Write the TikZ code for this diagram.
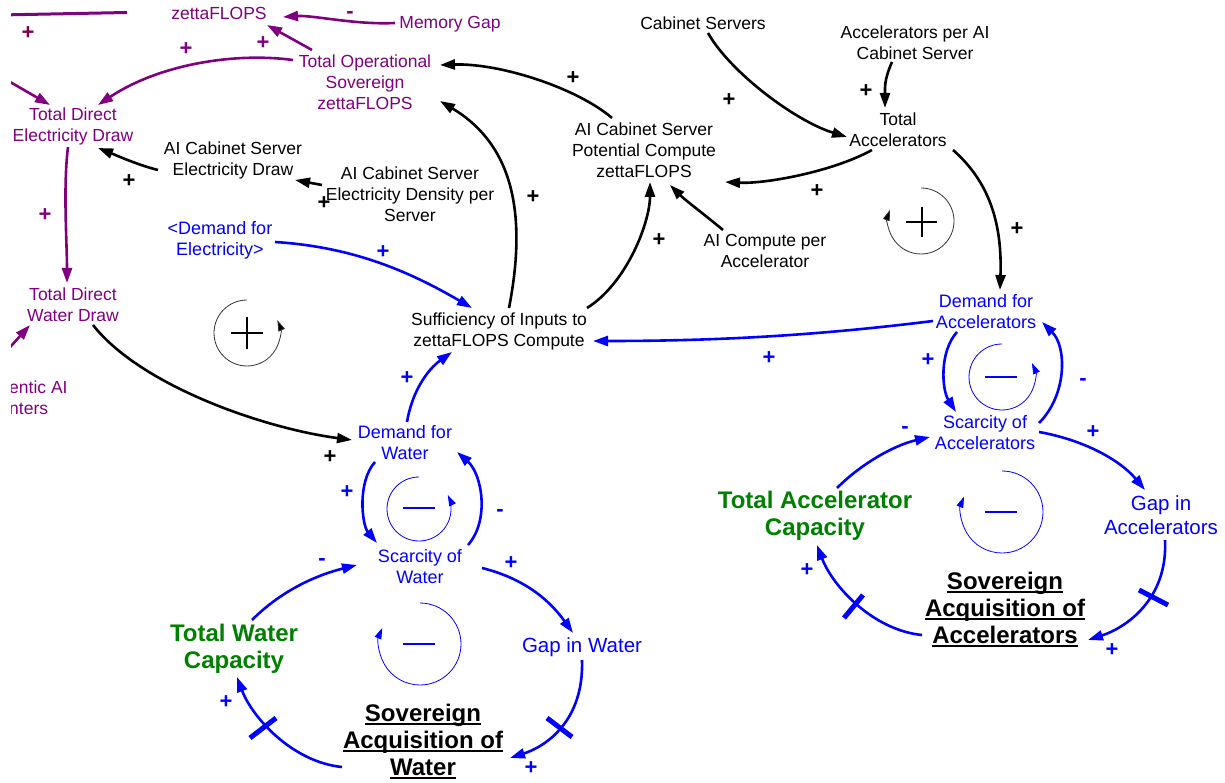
\documentclass[tikz,border=0pt]{standalone}
\usepackage{fontspec}
\setmainfont{Liberation Sans}
\usetikzlibrary{arrows.meta,calc}
\definecolor{purp}{RGB}{128,0,128}
\definecolor{dpurp}{RGB}{128,0,80}
\definecolor{vblue}{RGB}{0,0,255}
\definecolor{vgreen}{RGB}{0,128,0}
\newcommand\myul[1]{\setbox0\hbox{#1}\rlap{\rule[-3.5pt]{\wd0}{2pt}}\box0}
\tikzset{
  lbl/.style={align=center, inner sep=0pt, font=\fontsize{17.5}{21}\selectfont},
  nblack/.style={lbl, text=black},
  npurp/.style={lbl, text=purp},
  nblue/.style={align=center, inner sep=0pt, text=vblue, font=\fontsize{18}{21}\selectfont},
  ngap/.style={align=center, inner sep=0pt, text=vblue, font=\fontsize{20.5}{23.5}\selectfont},
  ngreen/.style={align=center, inner sep=0pt, text=vgreen, font=\bfseries\fontsize{24}{27.5}\selectfont},
  nsov/.style={align=center, inner sep=0pt, text=black, font=\bfseries\fontsize{24}{27}\selectfont},
  lk/.style={line width=2.6pt, -{Triangle[length=15pt,width=10pt]}},
  lkk/.style={lk, draw=black},
  lkp/.style={lk, draw=purp},
  lkb/.style={lk, draw=vblue},
  sgn/.style={inner sep=0pt, font=\bfseries\fontsize{22}{22}\selectfont},
  sk/.style={sgn, text=black},
  sp/.style={sgn, text=purp},
  sb/.style={sgn, text=vblue},
  delay/.style={line width=5pt, draw=vblue},
  loopk/.style={line width=0.8pt, draw=black!80, -{Triangle[length=11pt,width=7pt,fill=black]}},
  loopb/.style={line width=0.8pt, draw=vblue, -{Triangle[length=11pt,width=7pt,fill=vblue]}},
  loopsym/.style={line width=2pt}
}
\begin{document}
\begin{tikzpicture}[x=1pt,y=-1pt]
\useasboundingbox (0,0) rectangle (1225,783);
\fill[white] (0,0) rectangle (1225,783);
\begin{scope}
\clip (11,0) rectangle (1225,783);

% ---------- black nodes
\node[nblack] (cs) at (703,23) {Cabinet Servers};
\node[nblack] (apa) at (915,43) {Accelerators per AI\\Cabinet Server};
\node[nblack] (ta) at (898,130) {Total\\Accelerators};
\node[nblack] (pc) at (644,150) {AI Cabinet Server\\Potential Compute\\zettaFLOPS};
\node[nblack] (ed) at (233,160) {AI Cabinet Server\\Electricity Draw};
\node[nblack] (den) at (410,194) {AI Cabinet Server\\Electricity Density per\\Server};
\node[nblack] (cpa) at (765,251) {AI Compute per\\Accelerator};
\node[nblack] (suf) at (499,331) {Sufficiency of Inputs to\\zettaFLOPS Compute};

% ---------- purple nodes
\node[npurp] (zf) at (219,13) {zettaFLOPS};
\node[npurp] (mg) at (450,24) {Memory Gap};
\node[npurp] (tos) at (365,82) {Total Operational\\Sovereign\\zettaFLOPS};
\node[npurp] (tded) at (73,126) {Total Direct\\Electricity Draw};
\node[npurp] (tdwd) at (73,305) {Total Direct\\Water Draw};
\node[npurp, align=left, anchor=west] (aai) at (9,398) {entic AI\\nters};

% ---------- blue nodes
\node[nblue] (dfe) at (220,240) {<Demand for\\Electricity>};
\node[nblue] (dw) at (405,443) {Demand for\\Water};
\node[nblue] (sw) at (420,567) {Scarcity of\\Water};
\node[ngap] (gw) at (582,647) {Gap in Water};
\node[nblue] (da) at (986,312) {Demand for\\Accelerators};
\node[nblue] (sa) at (985,433) {Scarcity of\\Accelerators};
\node[ngap] (ga) at (1161,515) {Gap in\\Accelerators};

% ---------- green + sovereign nodes
\node[ngreen] (twc) at (234,649) {Total Water\\Capacity};
\node[ngreen] (tac) at (815,516) {Total Accelerator\\Capacity};
\node[nsov] (saw) at (423,742) {\myul{Sovereign}\\\myul{Acquisition of}\\\myul{Water}};
\node[nsov] (saa) at (1005,610) {\myul{Sovereign}\\\myul{Acquisition of}\\\myul{Accelerators}};

% ---------- free ends
\coordinate (oa) at (-2,75);
\coordinate (ob) at (3,355);
\coordinate (oc) at (0,15);
\coordinate (od) at (127,12.5);

% ---------- black links
\draw[lkk] ($(cs)+(5,10)$) .. controls +(22,39) and +(-52,-16) .. ($(ta)+(-51,7)$);
\draw[lkk] ($(apa)+(-23,19)$) .. controls +(-8,18) and +(0,-20) .. ($(ta)+(-13,-22)$);
\draw[lkk] ($(ta)+(-26,20)$) .. controls +(-40,22) and +(40,2) .. ($(pc)+(81,32)$);
\draw[lkk] ($(pc)+(-32,-32)$) .. controls +(-35,-30) and +(60,-2) .. ($(tos)+(75,-17)$);
\draw[lkk] ($(suf)+(10,-23)$) .. controls +(21,-108) and +(65,39) .. ($(tos)+(75,19)$);
\draw[lkk] ($(suf)+(88,-23)$) .. controls +(40,-25) and +(0,40) .. ($(pc)+(6,32)$);
\draw[lkk] ($(cpa)+(-42,-21)$) .. controls +(-18,-15) and +(15,15) .. ($(pc)+(26,35)$);
\draw[lkk] ($(ed)+(-75,10)$) .. controls +(-20,-5) and +(20,8) .. ($(tded)+(25,22)$);
\draw[lkk] ($(den)+(-88,-9)$) -- ($(ed)+(62,20)$);
\draw[lkk] ($(tdwd)+(20,20)$) .. controls +(47,60) and +(-90,-12) .. ($(dw)+(-53,-3)$);
\draw[lkk] ($(ta)+(55,20)$) .. controls +(40,35) and +(2,-60) .. ($(da)+(14,-22)$);

% ---------- purple links
\draw[lkp] ($(mg)+(-55,-1)$) .. controls +(-40,2) and +(30,-2) .. ($(zf)+(64,4)$);
\draw[lkp] ($(tos)+(-53,-32)$) -- ($(zf)+(48,12)$);
\draw[lkp] ($(tos)+(-72,-22)$) .. controls +(-60,-8) and +(60,-40) .. ($(tded)+(25,-21)$);
\draw[lkp] (oa) -- ($(tded)+(-23,-21)$);
\draw[lkp] ($(tded)+(-5,21)$) .. controls +(-5,40) and +(0,-40) .. ($(tdwd)+(-6,-22)$);
\draw[lkp] (ob) -- ($(tdwd)+(-43,20)$);
\draw[purp, line width=3pt] (oc) -- (od);

% ---------- blue links
\draw[lkb] ($(dfe)+(55,2)$) .. controls +(80,5) and +(-60,-35) .. ($(suf)+(-27,-23)$);
\draw[lkb] ($(dw)+(2,-21)$) .. controls +(5,-30) and +(-25,18) .. ($(suf)+(-47,21)$);
\draw[lkb] ($(da)+(-53,9)$) .. controls +(-120,15) and +(120,0) .. ($(suf)+(94,10)$);
\draw[lkb] ($(dw)+(-30,19)$) .. controls +(-18,20) and +(-15,-18) .. ($(sw)+(-43,-24)$);
\draw[lkb] ($(sw)+(48,-22)$) .. controls +(22,-25) and +(25,22) .. ($(dw)+(52,9)$);
\draw[lkb] ($(twc)+(18,-29)$) .. controls +(30,-30) and +(-40,10) .. ($(sw)+(-63,-2)$);
\draw[lkb] ($(sw)+(62,1)$) .. controls +(40,10) and +(-25,-35) .. ($(gw)+(-9,-14)$);
\draw[lkb] ($(gw)+(0,13)$) .. controls +(2,60) and +(37,-12) .. ($(saw)+(87,16)$);
\draw[lkb] ($(saw)+(-81,25)$) .. controls +(-50,-5) and +(15,40) .. ($(twc)+(3,28)$);
\draw[lkb] ($(da)+(-29,20)$) .. controls +(-18,20) and +(-14,-22) .. ($(sa)+(-29,-21)$);
\draw[lkb] ($(sa)+(54,-10)$) .. controls +(28,-28) and +(25,25) .. ($(da)+(56,10)$);
\draw[lkb] ($(tac)+(22,-28)$) .. controls +(25,-25) and +(-35,8) .. ($(sa)+(-55,4)$);
\draw[lkb] ($(sa)+(54,-1)$) .. controls +(45,8) and +(-25,-30) .. ($(ga)+(-16,-25)$);
\draw[lkb] ($(ga)+(4,25)$) .. controls +(3,60) and +(37,-12) .. ($(saa)+(83,30)$);
\draw[lkb] ($(saa)+(-83,25)$) .. controls +(-50,-5) and +(15,40) .. ($(tac)+(2,29)$);

% ---------- delay marks
\draw[delay] (547,718) -- (572,737);
\draw[delay] (250,738) -- (276,718);
\draw[delay] (1139,590) -- (1168,605);
\draw[delay] (844,618) -- (863,595);

% ---------- polarity signs
\node[sk] (k1) at (729,100) {+};
\node[sk] (k2) at (866,91) {+};
\node[sk] (k3) at (817,191) {+};
\node[sk] (k4) at (573,78) {+};
\node[sk] (k5) at (533,197) {+};
\node[sk] (k6) at (659,240) {+};
\node[sk] (k7) at (129,181) {+};
\node[sk] (k8) at (324,203) {+};
\node[sk] (k9) at (330,457) {+};
\node[sk] (k10) at (1017,229) {+};
\node[sp] (p1) at (186,49) {+};
\node[sp] (p2) at (263,43) {+};
\node[sp] (p3) at (45,215) {+};
\node[sp] (p4) at (350,15) {-};
\node[sgn, text=dpurp] (p5) at (28,33) {+};
\node[sb] (b1) at (383,252) {+};
\node[sb] (b2) at (407,378) {+};
\node[sb] (b3) at (769,358) {+};
\node[sb] (b4) at (347,492) {+};
\node[sb] (b5) at (511,563) {+};
\node[sb] (b6) at (531,768) {+};
\node[sb] (b7) at (226,702) {+};
\node[sb] (b8) at (928,360) {+};
\node[sb] (b9) at (1093,432) {+};
\node[sb] (b10) at (1112,650) {+};
\node[sb] (b11) at (807,570) {+};
\node[sb] (m1) at (500,513) {-};
\node[sb] (m2) at (322,562) {-};
\node[sb] (m3) at (1083,382) {-};
\node[sb] (m4) at (905,430) {-};

% ---------- loop symbols
\draw[loopk] (921,188) arc[start angle=-90, end angle=200, radius=33];
\draw[loopsym] (906,222) -- (937,222) (922,207) -- (922,237);
\draw[loopk] (247,300) arc[start angle=-90, end angle=-383, radius=33];
\draw[loopsym] (231,333) -- (263,333) (247,317) -- (247,349);
\draw[loopb] (419,477) arc[start angle=-90, end angle=-386, radius=32];
\draw[loopsym, draw=vblue] (403,508) -- (435,508);
\draw[loopb] (420,603) arc[start angle=-90, end angle=203, radius=41];
\draw[loopsym, draw=vblue] (403,644) -- (435,644);
\draw[loopb] (1002,344) arc[start angle=-90, end angle=-385, radius=33];
\draw[loopsym, draw=vblue] (985,377) -- (1017,377);
\draw[loopb] (1002,471) arc[start angle=-90, end angle=202, radius=41];
\draw[loopsym, draw=vblue] (985,512) -- (1017,512);
\end{scope}
\end{tikzpicture}
\end{document}
